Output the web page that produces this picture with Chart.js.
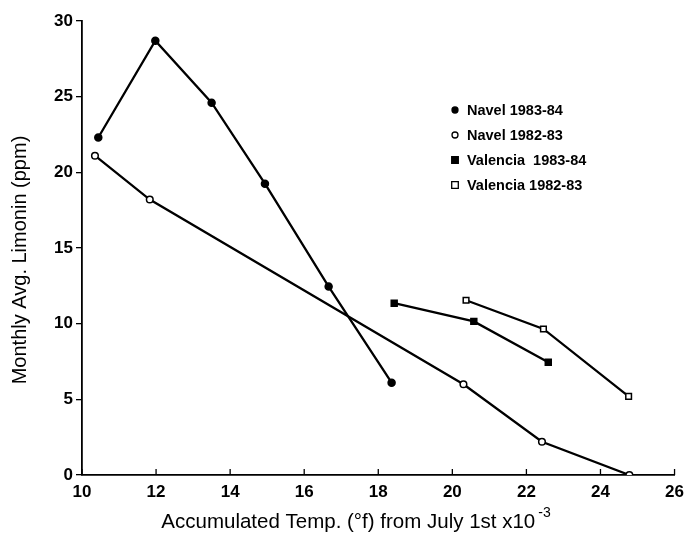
<!DOCTYPE html>
<html>
<head>
<meta charset="utf-8">
<script src="https://cdn.jsdelivr.net/npm/chart.js@4.4.0/dist/chart.umd.min.js"></script>
<style>
html,body{margin:0;padding:0;background:#fff;}
#wrap{width:691px;height:537px;position:relative;}
</style>
</head>
<body>
<div id="wrap"><canvas id="c" width="691" height="537"></canvas></div>
<script>
// Data
const navel8384X = [10.44, 11.98, 13.5, 14.94, 16.66, 18.36];
const navel8384Y = [22.3, 28.7, 24.6, 19.25, 12.45, 6.1];
const navel8283X = [10.35, 11.83, 20.3, 22.42, 24.78];
const navel8283Y = [21.1, 18.2, 6.0, 2.2, 0.0];
const val8384X = [18.43, 20.58, 22.59];
const val8384Y = [11.35, 10.15, 7.45];
const val8283X = [20.37, 22.46, 24.76];
const val8283Y = [11.55, 9.65, 5.2];
const seriesLabels = ['Navel 1983-84', 'Navel 1982-83', 'Valencia  1983-84', 'Valencia 1982-83'];
const xTicks = [10, 12, 14, 16, 18, 20, 22, 24, 26];
const yTicks = [0, 5, 10, 15, 20, 25, 30];
const xTitle = 'Accumulated Temp. (°f) from July 1st x10';
const xTitleSup = '-3';
const yTitle = 'Monthly Avg. Limonin (ppm)';

const pts = (xs, ys) => xs.map((x, i) => ({x: x, y: ys[i]}));
const FONT = '"Liberation Sans", Arial, Helvetica, sans-serif';

function ds(label, xs, ys, style, filled, r) {
  return {
    label: label, data: pts(xs, ys), showLine: true,
    borderColor: '#000', borderWidth: 2.3,
    pointStyle: style, pointRadius: r, pointHoverRadius: r,
    pointBackgroundColor: filled ? '#000' : '#fff',
    pointBorderColor: '#000', pointBorderWidth: 1.5,
    tension: 0
  };
}

const extras = {
  id: 'extras',
  afterDraw(chart) {
    const ctx = chart.ctx, xs = chart.scales.x, ys = chart.scales.y;
    ctx.save();
    // inward x ticks
    ctx.strokeStyle = '#000'; ctx.lineWidth = 1.3;
    xTicks.forEach(v => {
      const px = xs.getPixelForValue(v);
      ctx.beginPath(); ctx.moveTo(px, ys.bottom); ctx.lineTo(px, ys.bottom - 6); ctx.stroke();
    });
    // x title with superscript
    ctx.fillStyle = '#000';
    ctx.font = '20.5px ' + FONT;
    ctx.textBaseline = 'alphabetic';
    const w1 = ctx.measureText(xTitle).width;
    ctx.font = '14px ' + FONT;
    const w2 = ctx.measureText(xTitleSup).width;
    const cx = 356, total = w1 + 3 + w2;
    let sx = cx - total / 2;
    ctx.font = '20.5px ' + FONT;
    ctx.textAlign = 'left';
    ctx.fillText(xTitle, sx, 528);
    ctx.font = '14px ' + FONT;
    ctx.fillText(xTitleSup, sx + w1 + 3, 517);
    // y title
    ctx.save();
    ctx.translate(20, 260);
    ctx.rotate(-Math.PI / 2);
    ctx.font = '20px ' + FONT;
    ctx.textAlign = 'center';
    ctx.textBaseline = 'middle';
    ctx.fillText(yTitle, 0, 0);
    ctx.restore();
    // legend
    const lx = 455, ly = [110, 135, 160, 185];
    chart.data.datasets.forEach((d, i) => {
      const y = ly[i];
      ctx.lineWidth = 1.3; ctx.strokeStyle = '#000';
      ctx.fillStyle = d.pointBackgroundColor;
      if (d.pointStyle === 'circle') {
        ctx.beginPath(); ctx.arc(lx, y, 3, 0, Math.PI * 2); ctx.fill(); ctx.stroke();
      } else {
        ctx.beginPath(); ctx.rect(lx - 3.3, y - 3.3, 6.6, 6.6); ctx.fill(); ctx.stroke();
      }
      ctx.fillStyle = '#000';
      ctx.font = 'bold 14.5px ' + FONT;
      ctx.textAlign = 'left';
      ctx.textBaseline = 'middle';
      ctx.fillText(d.label, 467, y + 1);
    });
    ctx.restore();
  }
};

new Chart(document.getElementById('c'), {
  type: 'scatter',
  data: {
    datasets: [
      ds(seriesLabels[0], navel8384X, navel8384Y, 'circle', true, 3.5),
      ds(seriesLabels[1], navel8283X, navel8283Y, 'circle', false, 3.3),
      ds(seriesLabels[2], val8384X, val8384Y, 'rect', true, 4.2),
      ds(seriesLabels[3], val8283X, val8283Y, 'rect', false, 4)
    ]
  },
  options: {
    responsive: false, animation: false,
    layout: {padding: {top: 21, right: 13, left: 0, bottom: 0}},
    plugins: {legend: {display: false}, tooltip: {enabled: false}},
    scales: {
      x: {
        type: 'linear', min: 10, max: 26,
        afterBuildTicks: s => { s.ticks = xTicks.map(v => ({value: v})); },
        afterFit: s => { s.height = 62; },
        border: {color: '#000', width: 1.8},
        grid: {display: false, drawTicks: false},
        ticks: {color: '#000', font: {family: FONT, size: 17, weight: 'bold'}, padding: 7, maxRotation: 0}
      },
      y: {
        type: 'linear', min: 0, max: 30,
        afterBuildTicks: s => { s.ticks = yTicks.map(v => ({value: v})); },
        afterFit: s => { s.width = 82; },
        border: {color: '#000', width: 1.8},
        grid: {drawOnChartArea: false, drawTicks: true, tickLength: 6, color: '#000', lineWidth: 1.3},
        ticks: {color: '#000', font: {family: FONT, size: 17, weight: 'bold'}, padding: 3}
      }
    }
  },
  plugins: [extras]
});
</script>
</body>
</html>
